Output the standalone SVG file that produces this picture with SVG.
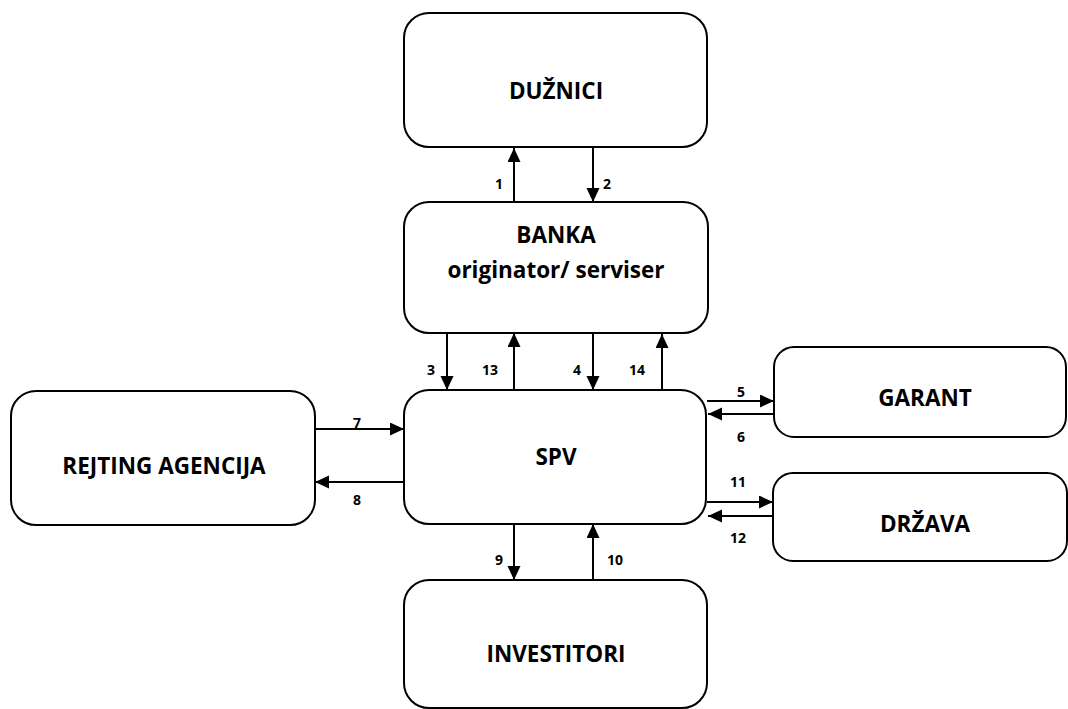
<svg xmlns="http://www.w3.org/2000/svg" width="1068" height="709" viewBox="0 0 1068 709">
  <style>
    .box { fill: #ffffff; stroke: #000000; stroke-width: 2; }
    .title { font-family: "Open Sans", "Liberation Sans", sans-serif; font-weight: 700; font-size: 22.5px; fill: #000000; text-anchor: middle; }
    .num { font-family: "Open Sans", "Liberation Sans", sans-serif; font-weight: 700; font-size: 14px; fill: #000000; text-anchor: middle; }
    .flow { stroke: #000000; stroke-width: 2; fill: none; marker-end: url(#head); }
  </style>
  <defs>
    <marker id="head" markerUnits="userSpaceOnUse" markerWidth="15" markerHeight="14" refX="14" refY="6.5" orient="auto">
      <path d="M0,0 L14,6.5 L0,13 Z" fill="#000000"/>
    </marker>
  </defs>
  <rect width="1068" height="709" fill="#ffffff"/>

  <g id="duznici">
    <rect class="box" x="404" y="13" width="303" height="134" rx="25"/>
    <text class="title" x="556" y="99">DUŽNICI</text>
  </g>

  <g id="banka">
    <rect class="box" x="404" y="202" width="304" height="131" rx="25"/>
    <text class="title" x="556" y="243">BANKA</text>
    <text class="title" x="556" y="278">originator/ serviser</text>
  </g>

  <g id="spv">
    <rect class="box" x="404" y="390" width="302" height="134" rx="25"/>
    <text class="title" x="556" y="465">SPV</text>
  </g>

  <g id="rejting-agencija">
    <rect class="box" x="11" y="391" width="304" height="134" rx="25"/>
    <text class="title" x="164" y="474">REJTING AGENCIJA</text>
  </g>

  <g id="garant">
    <rect class="box" x="774" y="347" width="292" height="90" rx="20"/>
    <text class="title" x="925" y="406">GARANT</text>
  </g>

  <g id="drzava">
    <rect class="box" x="773" y="473" width="294" height="88" rx="20"/>
    <text class="title" x="925" y="532">DRŽAVA</text>
  </g>

  <g id="investitori">
    <rect class="box" x="404" y="580" width="303" height="128" rx="25"/>
    <text class="title" x="556" y="662">INVESTITORI</text>
  </g>

  <g id="connectors">
    <!-- Banka <-> Dužnici -->
    <line class="flow" x1="514" y1="202" x2="514" y2="148"/>
    <line class="flow" x1="593" y1="148" x2="593" y2="202"/>
    <!-- Banka <-> SPV -->
    <line class="flow" x1="447" y1="333" x2="447" y2="390"/>
    <line class="flow" x1="514" y1="390" x2="514" y2="333"/>
    <line class="flow" x1="593" y1="333" x2="593" y2="390"/>
    <line class="flow" x1="662" y1="390" x2="662" y2="334"/>
    <!-- SPV <-> Garant -->
    <line class="flow" x1="707" y1="401" x2="774" y2="401"/>
    <line class="flow" x1="774" y1="414" x2="708" y2="414"/>
    <!-- Rejting agencija <-> SPV -->
    <line class="flow" x1="315" y1="429" x2="404" y2="429"/>
    <line class="flow" x1="404" y1="482" x2="315" y2="482"/>
    <!-- SPV <-> Država -->
    <line class="flow" x1="707" y1="502" x2="773" y2="502"/>
    <line class="flow" x1="773" y1="516" x2="708" y2="516"/>
    <!-- SPV <-> Investitori -->
    <line class="flow" x1="514" y1="524" x2="514" y2="580"/>
    <line class="flow" x1="593" y1="580" x2="593" y2="524"/>

    <text class="num" x="499" y="189">1</text>
    <text class="num" x="607" y="189">2</text>
    <text class="num" x="431" y="375">3</text>
    <text class="num" x="490" y="375">13</text>
    <text class="num" x="577" y="375">4</text>
    <text class="num" x="637" y="375">14</text>
    <text class="num" x="741" y="397">5</text>
    <text class="num" x="741" y="442">6</text>
    <text class="num" x="357" y="428">7</text>
    <text class="num" x="357" y="505">8</text>
    <text class="num" x="499" y="565">9</text>
    <text class="num" x="615" y="565">10</text>
    <text class="num" x="738" y="487">11</text>
    <text class="num" x="738" y="543">12</text>
  </g>
</svg>
